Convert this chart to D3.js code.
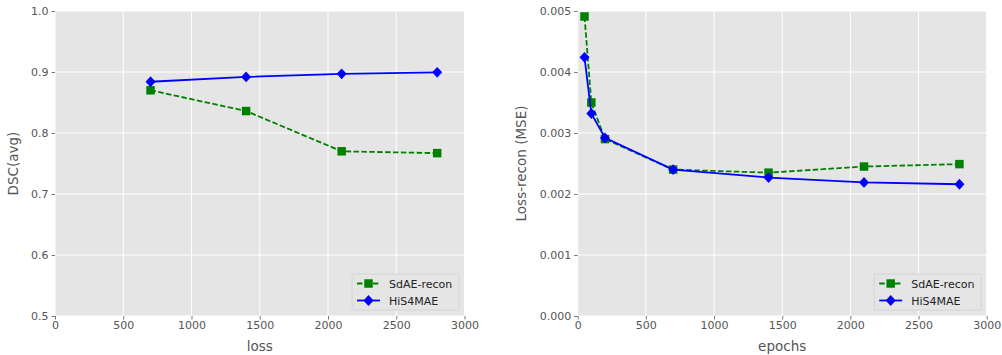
<!DOCTYPE html>
<html>
<head>
<meta charset="utf-8">
<script src="https://cdn.jsdelivr.net/npm/d3@7"></script>
<style>
  html, body { margin: 0; padding: 0; background: #fff; }
  svg text { font-family: "DejaVu Sans", sans-serif; }
</style>
</head>
<body>
<div id="chart"></div>
<script>
// ---- data ----
var lossSteps = [700, 1400, 2100, 2800];
var dscSdAE = [0.870, 0.836, 0.770, 0.767];
var dscHiS4 = [0.884, 0.892, 0.897, 0.8995];

var epochSteps = [50, 100, 200, 700, 1400, 2100, 2800];
var mseSdAE = [0.00491, 0.00350, 0.00290, 0.00240, 0.00235, 0.00245, 0.00249];
var mseHiS4 = [0.00424, 0.00332, 0.00292, 0.00240, 0.00227, 0.00219, 0.00216];

var xTicks = [0, 500, 1000, 1500, 2000, 2500, 3000];
var dscTicks = [0.5, 0.6, 0.7, 0.8, 0.9, 1.0];
var mseTicks = [0, 0.001, 0.002, 0.003, 0.004, 0.005];

var seriesNames = ['SdAE-recon', 'HiS4MAE'];

(function() {
  var W = 1002, H = 355;
  var svg = d3.select('#chart').append('svg')
    .attr('width', W).attr('height', H);

  var panels = [
    { left: 55, right: 464.5, xs: lossSteps, a: dscSdAE, b: dscHiS4,
      yDomain: [0.5, 1.0], yTicks: dscTicks, yFmt: d3.format('.1f'),
      xLabel: 'loss', yLabel: 'DSC(avg)', yLabelX: 18 },
    { left: 577.7, right: 986.7, xs: epochSteps, a: mseSdAE, b: mseHiS4,
      yDomain: [0, 0.005], yTicks: mseTicks, yFmt: d3.format('.3f'),
      xLabel: 'epochs', yLabel: 'Loss-recon (MSE)', yLabelX: 526 }
  ];
  var top = 11, bottom = 316;

  var square = d3.symbol().type(d3.symbolSquare).size(72);
  var diamond = 'M0,-5.4L5,0L0,5.4L-5,0Z';

  panels.forEach(function(p) {
    var x = d3.scaleLinear().domain([0, 3000]).range([p.left, p.right]);
    var y = d3.scaleLinear().domain(p.yDomain).range([bottom, top]);
    var g = svg.append('g');

    g.append('rect')
      .attr('x', p.left).attr('y', top)
      .attr('width', p.right - p.left).attr('height', bottom - top)
      .attr('fill', '#e5e5e5');

    // grid
    g.append('g').selectAll('line.v').data(xTicks).join('line')
      .attr('x1', function(d) { return x(d); }).attr('x2', function(d) { return x(d); })
      .attr('y1', top).attr('y2', bottom)
      .attr('stroke', '#fff').attr('stroke-width', 1);
    g.append('g').selectAll('line.h').data(p.yTicks).join('line')
      .attr('y1', function(d) { return y(d); }).attr('y2', function(d) { return y(d); })
      .attr('x1', p.left).attr('x2', p.right)
      .attr('stroke', '#fff').attr('stroke-width', 1);

    // axes
    var xa = g.append('g')
      .attr('transform', 'translate(0,' + bottom + ')')
      .call(d3.axisBottom(x).tickValues(xTicks).tickSize(3.5).tickPadding(2).tickFormat(d3.format('d')));
    var ya = g.append('g')
      .attr('transform', 'translate(' + p.left + ',0)')
      .call(d3.axisLeft(y).tickValues(p.yTicks).tickSize(3.5).tickPadding(3).tickFormat(p.yFmt));
    [xa, ya].forEach(function(a) {
      a.select('.domain').remove();
      a.selectAll('.tick line').attr('stroke', '#555').attr('stroke-width', 0.8);
      a.selectAll('.tick text')
        .attr('fill', '#555')
        .style('font-size', '11px')
        .style('font-family', '"DejaVu Sans", sans-serif');
    });

    g.append('text')
      .attr('x', (p.left + p.right) / 2).attr('y', 351)
      .attr('text-anchor', 'middle')
      .attr('fill', '#555').style('font-size', '13.5px')
      .text(p.xLabel);
    g.append('text')
      .attr('transform', 'translate(' + p.yLabelX + ',' + ((top + bottom) / 2) + ') rotate(-90)')
      .attr('text-anchor', 'middle')
      .attr('fill', '#555').style('font-size', '13.5px')
      .text(p.yLabel);

    var line = d3.line()
      .x(function(d, i) { return x(p.xs[i]); })
      .y(function(d) { return y(d); });

    // SdAE-recon
    g.append('path').datum(p.a)
      .attr('d', line).attr('fill', 'none')
      .attr('stroke', 'green').attr('stroke-width', 1.8)
      .attr('stroke-dasharray', '5.5,2.4');
    g.append('g').selectAll('path').data(p.a).join('path')
      .attr('transform', function(d, i) { return 'translate(' + x(p.xs[i]) + ',' + y(d) + ')'; })
      .attr('d', square).attr('fill', 'green');

    // HiS4MAE
    g.append('path').datum(p.b)
      .attr('d', line).attr('fill', 'none')
      .attr('stroke', 'blue').attr('stroke-width', 1.8);
    g.append('g').selectAll('path').data(p.b).join('path')
      .attr('transform', function(d, i) { return 'translate(' + x(p.xs[i]) + ',' + y(d) + ')'; })
      .attr('d', diamond).attr('fill', 'blue');

    // legend
    var lw = 107, lh = 36;
    var lx = p.right - 5.5 - lw, ly = 274;
    var lg = g.append('g').attr('transform', 'translate(' + lx + ',' + ly + ')');
    lg.append('rect')
      .attr('width', lw).attr('height', lh).attr('rx', 2)
      .attr('fill', '#e5e5e5').attr('stroke', '#d0d0d0').attr('stroke-width', 0.8);
    seriesNames.forEach(function(name, i) {
      var cy = 9.5 + i * 17;
      var row = lg.append('g').attr('transform', 'translate(0,' + cy + ')');
      row.append('line')
        .attr('x1', 5).attr('x2', 28).attr('y1', 0).attr('y2', 0)
        .attr('stroke', i === 0 ? 'green' : 'blue').attr('stroke-width', 1.8)
        .attr('stroke-dasharray', i === 0 ? '5.5,2.4' : null);
      row.append('path')
        .attr('transform', 'translate(16.5,0)')
        .attr('d', i === 0 ? square : diamond)
        .attr('fill', i === 0 ? 'green' : 'blue');
      row.append('text')
        .attr('x', 37).attr('y', 4)
        .attr('fill', '#222').style('font-size', '11px')
        .text(name);
    });
  });
})();
</script>
</body>
</html>
